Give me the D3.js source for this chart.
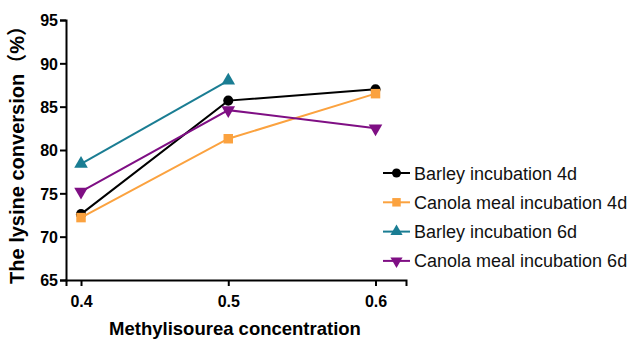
<!DOCTYPE html>
<html>
<head>
<meta charset="utf-8">
<script src="https://cdn.jsdelivr.net/npm/d3@7"></script>
<style>
  body { margin: 0; background: #fff; }
  text { font-family: "Liberation Sans", Arial, sans-serif; }
</style>
</head>
<body>
<div id="graph"></div>
<script>
// data
const concentrations = [0.4, 0.5, 0.6];
const barley4d = [72.6, 85.7, 87.0];
const canola4d = [72.2, 81.3, 86.5];
const barley6d = [78.4, 88.0];
const canola6d = [75.2, 84.6, 82.5];
const seriesNames = ["Barley incubation 4d", "Canola meal incubation 4d", "Barley incubation 6d", "Canola meal incubation 6d"];
const yTicks = [65, 70, 75, 80, 85, 90, 95];

const w = 634;
const h = 340;

const svg = d3.select("#graph")
              .append("svg")
              .attr("width", w)
              .attr("height", h);

// scales
const xScale = d3.scaleLinear()
                 .domain([0.3898, 0.6207])
                 .range([66, 406]);
const yScale = d3.scaleLinear()
                 .domain([65, 95])
                 .range([280, 20]);

const series = [
  { name: seriesNames[0], values: barley4d, color: "#000000", shape: d3.symbolCircle, size: 80, rot: 0 },
  { name: seriesNames[1], values: canola4d, color: "#FBA23F", shape: d3.symbolSquare, size: 90, rot: 0 },
  { name: seriesNames[2], values: barley6d, color: "#1A7D93", shape: d3.symbolTriangle, size: 80, rot: 0 },
  { name: seriesNames[3], values: canola6d, color: "#7F0F84", shape: d3.symbolTriangle, size: 80, rot: 180 }
];

// axes
const xAxis = d3.axisBottom(xScale)
                .tickValues(concentrations)
                .tickFormat(d3.format(".1f"))
                .tickSizeOuter(0)
                .tickSize(6)
                .tickPadding(10);
const yAxis = d3.axisLeft(yScale)
                .tickValues(yTicks)
                .tickSizeOuter(0)
                .tickSize(6)
                .tickPadding(2);

const gx = svg.append("g")
              .attr("transform", "translate(0,280)")
              .call(xAxis);
const gy = svg.append("g")
              .attr("transform", "translate(66,0)")
              .call(yAxis);

[gx, gy].forEach(g => {
  g.select(".domain").attr("stroke", "#000").attr("stroke-width", 2);
  g.selectAll(".tick line").attr("stroke", "#000").attr("stroke-width", 2);
  g.selectAll(".tick text")
   .attr("fill", "#000")
   .style("font-family", "'Liberation Sans', Arial, sans-serif")
   .style("font-weight", "bold")
   .style("font-size", "16px");
});
gy.selectAll(".tick text").attr("dy", "0.36em");

// axis titles
svg.append("text")
   .text("Methylisourea concentration")
   .attr("x", 235)
   .attr("y", 335)
   .attr("text-anchor", "middle")
   .style("font-weight", "bold")
   .style("font-size", "18.5px");
svg.append("text")
   .text("The lysine conversion（%）")
   .attr("transform", "rotate(-90)")
   .attr("x", -150)
   .attr("y", 24)
   .attr("text-anchor", "middle")
   .style("font-family", "'Liberation Sans', 'Noto Sans CJK SC', Arial, sans-serif")
   .style("font-weight", "bold")
   .style("font-size", "20px");

// lines and markers
const line = d3.line()
               .x((d, i) => xScale(concentrations[i]))
               .y(d => yScale(d));

series.forEach(s => {
  svg.append("path")
     .datum(s.values)
     .attr("d", line)
     .attr("fill", "none")
     .attr("stroke", s.color)
     .attr("stroke-width", 2);
  svg.selectAll(null)
     .data(s.values)
     .enter()
     .append("path")
     .attr("d", d3.symbol().type(s.shape).size(s.size))
     .attr("transform", (d, i) => "translate(" + xScale(concentrations[i]) + "," + yScale(d) + ") rotate(" + s.rot + ")")
     .attr("fill", s.color);
});

// legend
const legend = svg.append("g")
                  .attr("id", "legend");
series.forEach((s, i) => {
  const ly = 173 + i * 29.3;
  legend.append("line")
        .attr("x1", 383)
        .attr("x2", 410)
        .attr("y1", ly)
        .attr("y2", ly)
        .attr("stroke", s.color)
        .attr("stroke-width", 2);
  legend.append("path")
        .attr("d", d3.symbol().type(s.shape).size(s.size * 0.8))
        .attr("transform", "translate(396.5," + ly + ") rotate(" + s.rot + ")")
        .attr("fill", s.color);
  legend.append("text")
        .text(s.name)
        .attr("x", 414)
        .attr("y", ly + 6.5)
        .style("font-size", "18px")
        .attr("fill", "#111");
});
</script>
</body>
</html>
